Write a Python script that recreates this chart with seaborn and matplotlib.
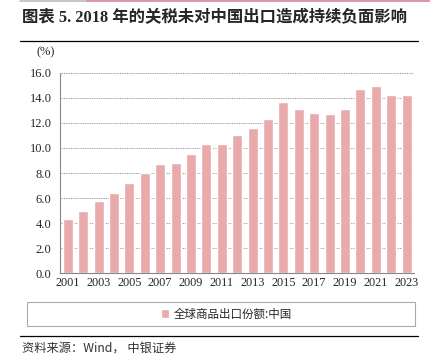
import pandas as pd
import matplotlib.pyplot as plt
import seaborn as sns
from matplotlib.patches import Rectangle
from matplotlib.lines import Line2D

# Data
years = [str(y) for y in range(2001, 2024)]
share = [4.3, 5.0, 5.8, 6.4, 7.2, 8.0, 8.7, 8.8, 9.5, 10.3, 10.3, 11.0,
         11.6, 12.3, 13.7, 13.1, 12.8, 12.7, 13.1, 14.7, 14.9, 14.2, 14.2]
series_name = "全球商品出口份额:中国"
title = "图表 5. 2018 年的关税未对中国出口造成持续负面影响"
source = "资料来源：Wind， 中银证券"

df = pd.DataFrame({"year": years, "share": share})

sns.set_style("white")
plt.rcParams["font.family"] = ["Liberation Serif", "Noto Sans CJK SC"]

fig = plt.figure(figsize=(4.31, 3.62), dpi=100)
ax = fig.add_axes([60 / 431, 1 - 273.3 / 362, 354.4 / 431, 200.6 / 362])

sns.barplot(data=df, x="year", y="share", color="#E8AAAA", saturation=1,
            width=0.65, label=series_name, ax=ax, zorder=2)

ax.set_ylim(0, 16)
ax.set_xlim(-0.5, len(years) - 0.5)
ax.set_yticks(range(0, 17, 2))
ax.set_yticklabels([f"{v:.1f}" for v in range(0, 17, 2)], fontsize=9)
ax.set_xticks(range(0, len(years), 2))
ax.set_xticklabels(years[::2], fontsize=8.8)
ax.set_xticks([i + 0.5 for i in range(1, len(years) - 1, 2)], minor=True)
ax.tick_params(axis="x", which="major", length=0, pad=3)
ax.tick_params(axis="x", which="minor", length=3, color="#888888", width=0.8)
ax.tick_params(axis="y", length=3, color="#888888", width=0.8, pad=3)
ax.set_xlabel("")
ax.set_ylabel("")
ax.grid(axis="y", color="#999999", linestyle=(0, (1, 0.8)), linewidth=0.7, zorder=0)
for s in ["top", "right"]:
    ax.spines[s].set_visible(False)
for s in ["left", "bottom"]:
    ax.spines[s].set_color("#888888")
    ax.spines[s].set_linewidth(0.8)
if ax.legend_:
    ax.legend_.remove()

# Unit label
fig.text(46 / 431, 1 - 52 / 362, "(%)", fontsize=9, ha="center", va="center")

# Title and decorative lines
fig.text(22 / 431, 1 - 18 / 362, title, fontsize=11.8, fontweight="bold",
         ha="left", va="center")
fig.add_artist(Line2D([20 / 431, 87 / 431], [1 - 0.8 / 362] * 2, color="#BBBBBB", lw=1.2))
fig.add_artist(Line2D([87 / 431, 1.0], [1 - 0.8 / 362] * 2, color="#D9809A", lw=1.2))
fig.add_artist(Line2D([20 / 431, 418 / 431], [1 - 41 / 362] * 2, color="black", lw=0.9))

# Legend box
fig.add_artist(Rectangle((27 / 431, 1 - 326 / 362), 388 / 431, 24 / 362,
                         transform=fig.transFigure, fill=False,
                         edgecolor="#AAAAAA", lw=0.8))
handles, labels = ax.get_legend_handles_labels()
fig.legend(handles[:1], labels[:1], loc="center", bbox_to_anchor=(226 / 431, 1 - 314 / 362),
           frameon=False, handlelength=0.7, handleheight=0.7,
           handletextpad=0.4, prop={"family": ["Noto Sans CJK SC"], "size": 8.3})

# Bottom rule and source
fig.add_artist(Line2D([20 / 431, 418 / 431], [1 - 336 / 362] * 2, color="black", lw=0.9))
fig.text(22 / 431, 1 - 348 / 362, source, fontsize=8.8, style="italic",
         family=["Noto Sans CJK SC"], ha="left", va="center", color="#333333")

fig.savefig("out.png", dpi=100)
